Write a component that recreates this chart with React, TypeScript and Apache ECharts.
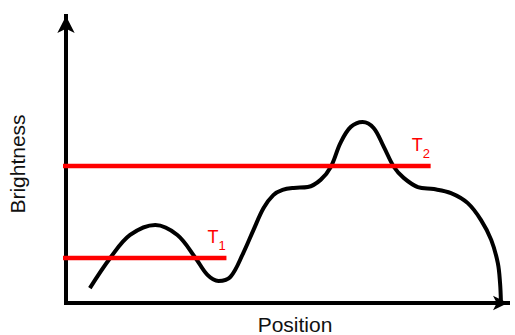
import React, { useEffect, useRef } from "react";
import * as echarts from "echarts";

// Brightness profile along position (arbitrary units 0..100)
const profileX: number[] = [5.4, 10.0, 14.5, 20.2, 25.2, 29.3, 32.0, 34.5, 37.2, 40.1, 42.4, 44.7, 46.9, 49.0, 51.5, 54.7, 57.6, 59.9, 62.1, 64.4, 67.1, 69.6, 71.9, 74.2, 76.4, 79.6, 83.2, 87.1, 90.9, 93.9, 96.2, 97.7, 98.2, 98.4];
const profileY: number[] = [5.2, 15.7, 23.7, 27.2, 23.7, 15.7, 9.8, 7.7, 9.1, 17.4, 25.4, 33.1, 37.6, 39.4, 40.1, 40.4, 42.9, 47.4, 55.8, 61.3, 63.1, 61.0, 54.4, 47.4, 43.6, 40.4, 39.7, 38.3, 34.8, 28.9, 22.0, 13.9, 7.0, 0.4];

// Thresholds
const thresholdNames: string[] = ["1", "2"];
const thresholdLevels: number[] = [15.7, 47.7];
const thresholdStartX: number[] = [-5.2, -5.2];
const thresholdEndX: number[] = [36.3, 82.5];

const xAxisName = "Position";
const yAxisName = "Brightness";

const FONT = "'Liberation Sans', Arial, Helvetica, sans-serif";

export default function App() {
  const ref = useRef<HTMLDivElement>(null);
  useEffect(() => {
    if (!ref.current) return;
    const chart = echarts.init(ref.current, null, { renderer: "svg" });
    const curve = profileX.map((x, i) => [x, profileY[i]]);
    const thresholdSeries = thresholdLevels.map((lvl, i) => ({
      type: "line",
      data: [
        [thresholdStartX[i], lvl],
        [thresholdEndX[i], lvl],
      ],
      symbol: "none",
      clip: false,
      z: 3,
      lineStyle: { color: "#ff0000", width: 4.5 },
      endLabel: {
        show: true,
        distance: 0,
        align: "left",
        offset: [-19, -21],
        formatter: "{t|T}{s|" + thresholdNames[i] + "}",
        rich: {
          t: { fontSize: 18, color: "#ff0000", fontFamily: FONT, lineHeight: 30 },
          s: { fontSize: 13, color: "#ff0000", fontFamily: FONT, padding: [17, 0, 0, 0], lineHeight: 13 },
        },
      },
    }));
    chart.setOption({
      animation: false,
      grid: { left: 66, right: 7, top: 16, bottom: 32, containLabel: false, outerBoundsMode: "none" },
      xAxis: {
        type: "value",
        min: 0,
        max: 100,
        name: xAxisName,
        nameLocation: "middle",
        nameGap: 11,
        nameTextStyle: { fontSize: 21, color: "#111", fontFamily: FONT, padding: [0, 0, 0, 16] },
        axisLine: {
          show: true,
          symbol: ["none", "arrow"],
          symbolSize: [11, 15],
          lineStyle: { color: "#000", width: 4, cap: "square" },
        },
        axisTick: { show: false },
        axisLabel: { show: false },
        splitLine: { show: false },
      },
      yAxis: {
        type: "value",
        min: 0,
        max: 100,
        name: yAxisName,
        nameLocation: "middle",
        nameRotate: 90,
        nameGap: 38,
        nameTextStyle: { fontSize: 21, color: "#111", fontFamily: FONT, padding: [0, 9, 0, 0] },
        axisLine: {
          show: true,
          symbol: ["none", "arrow"],
          symbolSize: [13, 17],
          lineStyle: { color: "#000", width: 4, cap: "square" },
        },
        axisTick: { show: false },
        axisLabel: { show: false },
        splitLine: { show: false },
      },
      series: [
        {
          type: "line",
          data: curve,
          smooth: 0.35,
          symbol: "none",
          z: 2,
          lineStyle: { color: "#000", width: 4 },
        },
        ...thresholdSeries,
      ],
    });
    return () => chart.dispose();
  }, []);
  return (
    <div
      ref={ref}
      style={{ position: "absolute", left: 0, top: 0, width: 515, height: 335, background: "#fff" }}
    />
  );
}
